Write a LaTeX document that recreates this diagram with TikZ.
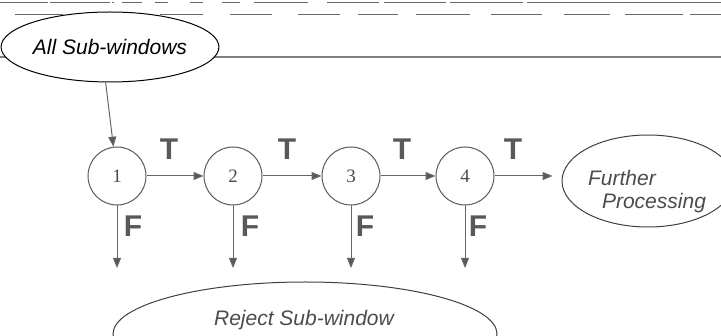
\documentclass[tikz,border=0pt]{standalone}
\usepackage{fontspec}
\setmainfont{Liberation Sans}
\newfontfamily\numfont{Liberation Serif}
\usetikzlibrary{shapes.geometric,arrows.meta}
\begin{document}
\begin{tikzpicture}[x=1pt,y=-1pt,
  stage/.style={circle,draw=black!65,line width=1pt,minimum size=58pt,inner sep=0pt,
    font=\numfont\fontsize{19}{19}\selectfont,text=black!70},
  term/.style={ellipse,line width=1pt,fill=white,inner sep=0pt},
  flow/.style={draw=black!60,line width=1pt,-{Triangle[length=10pt,width=8pt,fill=black!65]}},
  decision/.style={font=\bfseries\fontsize{30}{30}\selectfont,text=black!65,inner sep=0pt},
  caption/.style={font=\itshape\fontsize{21}{23}\selectfont,inner sep=0pt},
  rule/.style={draw=black!60,line width=1pt}
]
\useasboundingbox (0,0) rectangle (721,336);
\clip (0,0) rectangle (721,336);

% broken page rules at the top
\foreach \a/\b in {0/48,50/110,112/114,122/142,155/168,190/203,222/240,
                   254/308,327/379,384/446,450/523,527/721}
  \draw[rule] (\a,3) -- (\b,3);
\foreach \a/\b in {15/63,92/125,160/203,230/272,298/340,358/398,416/470,
                   491/542,564/610,625/683,690/721}
  \draw[rule] (\a,15) -- (\b,15);
\draw[black!50,line width=2pt] (0,57.5) -- (721,57.5);

% input
\node[term,draw=black,minimum width=204pt,minimum height=70pt,caption] (all) at (110,47) {All Sub-windows};

% cascade stages
\node[stage] (c1) at (117,176) {1};
\node[stage] (c2) at (233,176) {2};
\node[stage] (c3) at (351,176) {3};
\node[stage] (c4) at (465,176) {4};

% further processing
\node[term,draw=black!75,minimum width=172pt,minimum height=92pt] (fp) at (648,181) {};
\node[caption,align=left,text=black!70] (fpt) at (647,192) {Further\\\hspace*{14pt}Processing};

% rejection
\node[term,draw=black!75,minimum width=384pt,minimum height=104pt] (rej) at (305,334) {};
\node[caption,text=black!70] (rejt) at (304,320) {Reject Sub-window};

% rejection arrow ends
\coordinate (r1) at (117,268);
\coordinate (r2) at (233,268);
\coordinate (r3) at (351,268);
\coordinate (r4) at (465,268);

% connectors
\draw[flow] (all.263) -- (c1);
\draw[flow] (c1) -- (c2);
\draw[flow] (c2) -- (c3);
\draw[flow] (c3) -- (c4);
\draw[flow,shorten >=9pt] (c4.east) -- (c4 -| fp.west);
\draw[flow] (c1) -- (r1);
\draw[flow] (c2) -- (r2);
\draw[flow] (c3) -- (r3);
\draw[flow] (c4) -- (r4);

% branch labels
\node[decision] (t1) at (169,149) {T};
\node[decision] (t2) at (287,149) {T};
\node[decision] (t3) at (402,149) {T};
\node[decision] (t4) at (513,149) {T};
\node[decision] (f1) at (133,226) {F};
\node[decision] (f2) at (250,226) {F};
\node[decision] (f3) at (365,226) {F};
\node[decision] (f4) at (478,226) {F};
\end{tikzpicture}
\end{document}
